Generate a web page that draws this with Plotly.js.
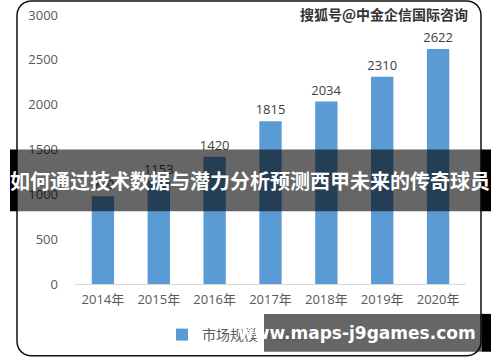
<!DOCTYPE html>
<html>
<head>
<meta charset="utf-8">
<script src="https://cdn.plot.ly/plotly-3.0.1.min.js"></script>
<style>html,body{margin:0;padding:0;background:#fff;}#chart{width:500px;height:362px;}</style>
</head>
<body>
<div id="chart"></div>
<script>
// Data
const categories = ["2014年", "2015年", "2016年", "2017年", "2018年", "2019年", "2020年"];
const marketSize = [980, 1153, 1420, 1815, 2034, 2310, 2622];
const seriesName = "市场规模（亿元）";
const bannerTitle = "如何通过技术数据与潜力分析预测西甲未来的传奇球员";
const topWatermark = "搜狐号@中金企信国际咨询";
const bottomWatermark = "www.maps-j9games.com";

const W = 500, H = 362;
const M = {l: 75, r: 34, t: 15, b: 77};
const PW = W - M.l - M.r, PH = H - M.t - M.b;
const px = v => (v - M.l) / PW;
const py = v => (H - M.b - v) / PH;

const FONT = "'Open Sans', 'Noto Sans CJK SC', sans-serif";

function roundRectPath(x0, y0, x1, y1, r) {
  const P = (x, y) => px(x).toFixed(5) + "," + py(y).toFixed(5);
  const pts = [];
  const n = 6;
  const arc = (cx, cy, a0, a1) => {
    for (let i = 0; i <= n; i++) {
      const a = a0 + (a1 - a0) * i / n;
      pts.push(P(cx + r * Math.cos(a), cy + r * Math.sin(a)));
    }
  };
  arc(x0 + r, y0 + r, Math.PI, 1.5 * Math.PI);
  arc(x1 - r, y0 + r, 1.5 * Math.PI, 2 * Math.PI);
  arc(x1 - r, y1 - r, 0, 0.5 * Math.PI);
  arc(x0 + r, y1 - r, 0.5 * Math.PI, Math.PI);
  return "M" + pts.join(" L") + " Z";
}

const rect = (x0, y0, x1, y1, fill) => ({
  type: "rect", xref: "paper", yref: "paper", layer: "above",
  x0: px(x0), x1: px(x1), y0: py(y1), y1: py(y0),
  fillcolor: fill, line: {width: 0}
});

const trace = {
  type: "bar",
  x: categories,
  y: marketSize,
  name: seriesName,
  marker: {color: "#5B9BD5"},
  text: marketSize.map(String),
  textposition: "outside",
  constraintext: "none",
  cliponaxis: false,
  textfont: {family: FONT, size: 13, color: "#404040"},
  showlegend: true
};

const layout = {
  width: W, height: H,
  margin: M,
  paper_bgcolor: "#ffffff",
  plot_bgcolor: "#ffffff",
  bargap: 0.6,
  font: {family: FONT, size: 13, color: "#595959"},
  xaxis: {
    showline: true, linecolor: "#d9d9d9", linewidth: 1,
    ticks: "", showgrid: false, fixedrange: true, ticklabelstandoff: 3,
    tickfont: {family: FONT, size: 13, color: "#595959"}
  },
  yaxis: {
    range: [0, 3000], dtick: 500, showgrid: false, zeroline: false,
    showline: false, ticks: "", ticklabelstandoff: 16,
    tickfont: {family: FONT, size: 13, color: "#595959"}
  },
  showlegend: true,
  legend: {
    orientation: "h", x: px(162), xanchor: "left", y: py(335), yanchor: "middle",
    font: {family: FONT, size: 14, color: "#595959"}, bgcolor: "rgba(0,0,0,0)",
    itemwidth: 30
  },
  shapes: [
    {type: "path", xref: "paper", yref: "paper", layer: "above",
     path: roundRectPath(17, 1, 481, 357, 14), line: {color: "#111", width: 1.5}},
    rect(17, 150, 481, 212, "rgba(0,0,0,0.6)"),
    rect(10, 150, 17, 212, "#000"),
    rect(481, 150, 491, 212, "#000"),
    rect(264, 315, 482, 353, "rgba(0,0,0,0.6)"),
    rect(482, 315, 491, 353, "#000")
  ],
  annotations: [
    {xref: "paper", yref: "paper", x: px(250), y: py(181), xanchor: "center", yanchor: "middle",
     text: "<b>" + bannerTitle + "</b>", showarrow: false,
     font: {family: "'Noto Sans CJK SC', sans-serif", size: 20, color: "#ffffff"}},
    {xref: "paper", yref: "paper", x: px(470), y: py(14), xanchor: "right", yanchor: "middle",
     text: "<b>" + topWatermark + "</b>", showarrow: false,
     font: {family: "'Noto Sans CJK SC', sans-serif", size: 14, color: "#333333"}},
    {xref: "paper", yref: "paper", x: px(478), y: py(334), xanchor: "right", yanchor: "middle",
     text: "<b>" + bottomWatermark + "</b>", showarrow: false,
     font: {family: "'DejaVu Sans', sans-serif", size: 17, color: "#ffffff"}}
  ]
};

Plotly.newPlot("chart", [trace], layout, {displayModeBar: false, staticPlot: true});
</script>
</body>
</html>
